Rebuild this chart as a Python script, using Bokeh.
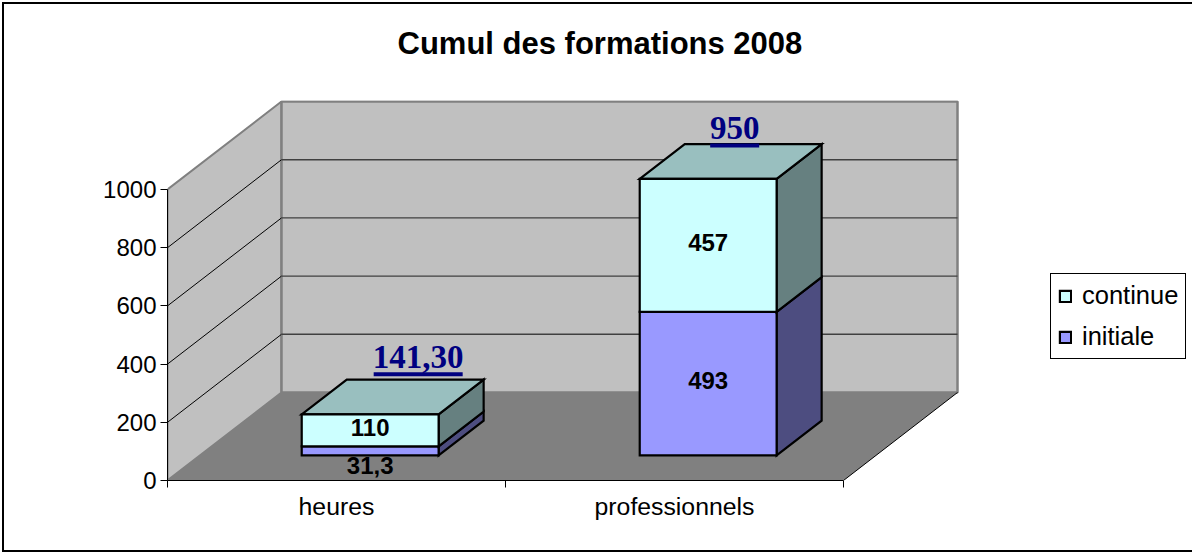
from bokeh.plotting import figure
from bokeh.embed import file_html
from bokeh.resources import INLINE
from bokeh.core.properties import value
from bokeh.models import (Range1d, FixedTicker, Legend, LegendItem, Label)

# ---- chart values ----
categories = ["heures", "professionnels"]
initiale = [31.3, 493]
continue_ = [110, 457]
initiale_labels = ["31,3", "493"]
continue_labels = ["110", "457"]
total_labels = ["141,30", "950"]
y_ticks = [0, 200, 400, 600, 800, 1000]
series_names = ["continue", "initiale"]
title_text = "Cumul des formations 2008"

# ---- scales: one category = 338 px, 1000 units = 291 px ----
PXX = 1 / 338.0
PXY = 1 / 0.291
DX = 114 * PXX      # full depth of the 3-D box, in category units
DY = 88 * PXY       # full depth of the 3-D box, in value units
BAR_L, BAR_R = 0.301, 0.706
D0, D1 = 0.285, 0.68
FONT = value("Liberation Sans")

p = figure(frame_width=793, frame_height=380, output_backend="svg", toolbar_location=None,
           x_range=Range1d(0, 793 * PXX), y_range=Range1d(0, 380 * PXY),
           min_border_left=167, min_border_right=232, min_border_top=100, min_border_bottom=73,
           background_fill_color=None, border_fill_color=None, outline_line_color=None)
p.styles = {"box-shadow": "inset 0.5px 0.5px 0 1.5px #fff, inset 0.5px 0.5px 0 3.5px #000"}
p.xgrid.visible = False
p.ygrid.visible = False


def pr(x, depth, v):
    return x + depth * DX, v + depth * DY


nc = len(categories)
vmax = y_ticks[-1]

# walls and floor
a = [pr(0, 0, 0), pr(0, 1, 0), pr(0, 1, vmax), pr(0, 0, vmax)]
p.patch([q[0] for q in a], [q[1] for q in a], fill_color="#C0C0C0", line_color="#808080", line_width=2)
a = [pr(0, 1, 0), pr(nc, 1, 0), pr(nc, 1, vmax), pr(0, 1, vmax)]
p.patch([q[0] for q in a], [q[1] for q in a], fill_color="#C0C0C0", line_color="#808080", line_width=2.5)

# grid lines on the two walls
inner = y_ticks[1:-1]
p.multi_line([[0, DX] for _ in inner], [[v, v + DY] for v in inner], line_color="#000000", line_width=1)
p.multi_line([[DX, nc + DX] for _ in inner], [[v + DY, v + DY] for v in inner], line_color="#404040", line_width=1.4)

a = [pr(0, 0, 0), pr(nc, 0, 0), pr(nc, 1, 0), pr(0, 1, 0)]
p.patch([q[0] for q in a], [q[1] for q in a], fill_color="#808080", line_color=None)
p.line([nc, nc + DX], [0, DY], line_color="#000000", line_width=1)

BAR_LINE = dict(line_color="#000000", line_width=2.2, line_join="miter")


def box(i, v0, v1, front, side, top, with_top):
    xl, xr = i + BAR_L, i + BAR_R
    f = [pr(xr, D0, v0), pr(xr, D1, v0), pr(xr, D1, v1), pr(xr, D0, v1)]
    p.patch([q[0] for q in f], [q[1] for q in f], fill_color=side, **BAR_LINE)
    if with_top:
        f = [pr(xl, D0, v1), pr(xr, D0, v1), pr(xr, D1, v1), pr(xl, D1, v1)]
        p.patch([q[0] for q in f], [q[1] for q in f], fill_color=top, **BAR_LINE)
    f = [pr(xl, D0, v0), pr(xr, D0, v0), pr(xr, D0, v1), pr(xl, D0, v1)]
    return p.patch([q[0] for q in f], [q[1] for q in f], fill_color=front, **BAR_LINE)


r_ini = r_con = None
for i in range(nc):
    r_ini = box(i, 0, initiale[i], "#9999FF", "#4D4D80", "#7373BF", False)
    r_con = box(i, initiale[i], initiale[i] + continue_[i], "#CCFFFF", "#668080", "#99BFBF", True)

# inner value labels
cx = (BAR_L + BAR_R) / 2 + D0 * DX
lab_style = dict(text_font=FONT, text_font_style="bold", text_font_size=value("24px"),
                 text_color="#000000", text_align="center", text_baseline="middle", y_offset=-3)
p.text([i + cx for i in range(nc)],
       [continue_[i] / 2 + initiale[i] + D0 * DY for i in range(nc)],
       text=continue_labels, **lab_style)
p.text([i + cx for i in range(nc)],
       [initiale[i] / 2 + D0 * DY - (18 * PXY if initiale[i] < 100 else 0) for i in range(nc)],
       text=initiale_labels, **lab_style)

# totals: hand placed in the original, above the top face
tot_dx = [48 * PXX, 26.5 * PXX]
tot_up = [57 * PXY, 51 * PXY]     # label centre above the front top edge
line_down = [17 * PXY, 17.5 * PXY]  # underline below the label centre
tx = [i + cx + tot_dx[i] for i in range(nc)]
ty = [initiale[i] + continue_[i] + D0 * DY + tot_up[i] for i in range(nc)]
p.text(tx, ty, text=total_labels, text_font=value("Liberation Serif"), text_font_style="bold",
       text_font_size=value("33px"), text_color="#000080", text_align="center", text_baseline="middle")
half_w = [44.5 * PXX, 24.5 * PXX]
p.segment([tx[i] - half_w[i] for i in range(nc)], [ty[i] - line_down[i] for i in range(nc)],
          [tx[i] + half_w[i] for i in range(nc)], [ty[i] - line_down[i] for i in range(nc)],
          line_color="#000080", line_width=4)

# axes
ax = p.yaxis[0]
ax.ticker = FixedTicker(ticks=y_ticks)
ax.bounds = (0, vmax)
ax.major_tick_out = 7
ax.major_tick_in = 0
ax.minor_tick_out = 0
ax.minor_tick_in = 0
ax.major_label_standoff = 4
ax.major_label_text_font = "Liberation Sans"
ax.major_label_text_font_size = "24px"
ax.major_label_text_color = "#000000"
ax.axis_line_color = "#000000"
ax.major_tick_line_color = "#000000"

ax = p.xaxis[0]
ax.ticker = FixedTicker(ticks=[i + 0.5 for i in range(nc)], minor_ticks=list(range(nc + 1)))
ax.major_label_overrides = {i + 0.5: categories[i] for i in range(nc)}
ax.bounds = (0, nc)
ax.major_tick_out = 0
ax.major_tick_in = 0
ax.minor_tick_out = 7
ax.minor_tick_in = 0
ax.major_label_standoff = 5
ax.major_label_text_font = "Liberation Sans"
ax.major_label_text_font_size = "24.8px"
ax.major_label_text_color = "#000000"
ax.axis_line_color = "#000000"
ax.minor_tick_line_color = "#000000"

# title
p.add_layout(Label(x=230, y=57, x_units="screen", y_units="screen", text=title_text,
                   text_align="left", text_baseline="middle",
                   text_font="Liberation Sans", text_font_style="bold",
                   text_font_size="31px", text_color="#000000"), "above")

# legend
legend = Legend(items=[LegendItem(label=series_names[0], renderers=[r_con]),
                       LegendItem(label=series_names[1], renderers=[r_ini])],
                location=(90, 121), orientation="vertical",
                glyph_width=14, glyph_height=14, label_standoff=10, padding=7, spacing=12, margin=0,
                label_text_font="Liberation Sans", label_text_font_size="25.5px", label_text_color="#000000",
                label_height=24, border_line_color="#000000", border_line_width=1, border_line_alpha=1,
                background_fill_color="#FFFFFF", background_fill_alpha=1)
p.add_layout(legend, "right")

open("out.html", "w").write(file_html(p, INLINE))
